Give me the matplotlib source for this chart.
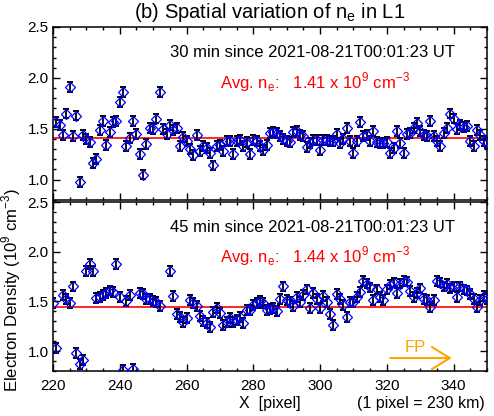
import matplotlib.pyplot as plt
import numpy as np
from matplotlib.ticker import MultipleLocator

plt.rcParams['font.family'] = 'Liberation Sans'
plt.rcParams['mathtext.fontset'] = 'custom'
plt.rcParams['mathtext.rm'] = 'Liberation Sans'

# ---- data ----
x_top = np.arange(221, 351)
ne_top = [1.57, 1.54, 1.44, 1.65, 1.91, 1.43, 1.63, 0.98, 1.44, 1.40,
          1.37, 1.16, 1.20, 1.49, 1.58, 1.34, 1.47, 1.57, 1.58, 1.76,
          1.86, 1.33, 1.41, 1.58, 1.45, 1.25, 1.05, 1.35, 1.51, 1.50,
          1.60, 1.86, 1.50, 1.45, 1.54, 1.49, 1.51, 1.33, 1.42, 1.38,
          1.30, 1.24, 1.44, 1.28, 1.33, 1.31, 1.26, 1.14, 1.33, 1.34,
          1.28, 1.38, 1.38, 1.25, 1.38, 1.39, 1.33, 1.37, 1.25, 1.39,
          1.38, 1.33, 1.29, 1.34, 1.46, 1.47, 1.46, 1.43, 1.40, 1.38,
          1.37, 1.47, 1.48, 1.44, 1.43, 1.32, 1.36, 1.39, 1.39, 1.29,
          1.39, 1.39, 1.38, 1.38, 1.45, 1.36, 1.40, 1.51, 1.38, 1.26,
          1.38, 1.57, 1.43, 1.44, 1.38, 1.48, 1.37, 1.36, 1.36, 1.37,
          1.26, 1.31, 1.48, 1.36, 1.26, 1.45, 1.46, 1.51, 1.56, 1.48,
          1.44, 1.43, 1.58, 1.43, 1.38, 1.33, 1.46, 1.51, 1.65, 1.60,
          1.50, 1.54, 1.52, 1.53, 1.38, 1.33, 1.49, 1.44, 1.38, 1.36]
err_top = 0.048
avg_top = 1.41

x_bot = [220, 221, 223, 224, 225, 226, 227, 228, 229, 230,
         231, 232, 233, 234, 235, 236, 237, 238, 239, 240,
         241, 242, 243, 244, 246, 247, 248, 249, 250, 251,
         252, 255, 256, 257, 258, 259, 260, 261, 262, 263,
         264, 265, 266, 267, 268, 269, 270, 271, 272, 273,
         274, 275, 276, 277, 278, 279, 280, 281, 282] + list(range(283, 351))
ne_bot = [1.48, 1.03, 1.56, 1.52, 1.48, 1.65, 0.98, 0.87, 0.91, 1.81,
          1.88, 1.81, 1.53, 1.54, 1.56, 1.58, 1.61, 1.59, 1.88, 1.54,
          0.81, 1.50, 1.56, 0.82, 1.58, 1.57, 1.52, 1.52, 1.50, 1.49,
          1.45, 1.81, 1.55, 1.37, 1.34, 1.29, 1.33, 1.51, 1.48, 1.45,
          1.35, 1.30, 1.28, 1.24, 1.39, 1.43, 1.38, 1.26, 1.29, 1.33,
          1.29, 1.31, 1.34, 1.28, 1.41, 1.41, 1.46, 1.48, 1.50,
          1.48, 1.41, 1.42, 1.43, 1.40, 1.52, 1.65, 1.51, 1.49, 1.45,
          1.54, 1.49, 1.56, 1.62, 1.43, 1.58, 1.52, 1.43, 1.55, 1.49,
          1.37, 1.26, 1.57, 1.52, 1.46, 1.34, 1.49, 1.49, 1.54, 1.59,
          1.71, 1.68, 1.64, 1.51, 1.62, 1.54, 1.51, 1.62, 1.67, 1.69,
          1.58, 1.68, 1.71, 1.70, 1.60, 1.54, 1.58, 1.63, 1.52, 1.51,
          1.44, 1.51, 1.71, 1.69, 1.65, 1.68, 1.63, 1.65, 1.54, 1.65,
          1.62, 1.61, 1.57, 1.52, 1.44, 1.51, 1.55, 1.52]
err_bot = 0.05
avg_bot = 1.44

fig = plt.figure(figsize=(4.94, 4.16), dpi=100)
ax1 = fig.add_axes([0.1073, 0.5192, 0.8785, 0.4159])
ax2 = fig.add_axes([0.1073, 0.1082, 0.8785, 0.4062])


def panel(ax, x, y, err, avg, minutes):
    ax.axhline(avg, color='red', lw=1.2, zorder=1)
    ax.errorbar(x, y, yerr=err, fmt='none', ecolor='black', elinewidth=1.3,
                capsize=2.4, capthick=1.4, zorder=2)
    ax.plot(x, y, 'D', ms=4.8, mfc='none', mec='blue', mew=0.9, zorder=3)
    ax.set_xlim(220, 350)
    ax.set_ylim(0.8, 2.5)
    ax.xaxis.set_major_locator(MultipleLocator(20))
    ax.xaxis.set_minor_locator(MultipleLocator(5))
    ax.yaxis.set_major_locator(MultipleLocator(0.5))
    ax.yaxis.set_minor_locator(MultipleLocator(0.1))
    ax.tick_params(which='both', direction='in', top=True, right=True,
                   labelsize=11, width=1.0)
    ax.tick_params(which='major', length=5)
    ax.tick_params(which='minor', length=2.5)
    ax.tick_params(axis='x', pad=6)
    ax.tick_params(axis='y', pad=3)
    for s in ax.spines.values():
        s.set_linewidth(1.1)
    ax.text(0.27, 0.85, '%d min since 2021-08-21T00:01:23 UT' % minutes,
            transform=ax.transAxes, fontsize=12, va='center')
    ax.text(0.385, 0.68,
            r'Avg. n$_\mathregular{e}$:   %.2f x 10$^\mathregular{9}$ cm$^\mathregular{-3}$' % avg,
            transform=ax.transAxes, fontsize=12, color='red', va='center')


panel(ax1, x_top, ne_top, err_top, avg_top, 30)
panel(ax2, x_bot, ne_bot, err_bot, avg_bot, 45)
ax1.tick_params(labelbottom=False)

fig.text(0.546, 0.971, r'(b) Spatial variation of n$_\mathregular{e}$ in L1',
         ha='center', va='center', fontsize=14.5)

ax2.text(0.5, -0.19, 'X  [pixel]', transform=ax2.transAxes, ha='center',
         va='center', fontsize=11.5)
ax2.text(0.995, -0.19, '(1 pixel = 230 km)', transform=ax2.transAxes,
         ha='right', va='center', fontsize=11.5)
fig.text(0.023, 0.303,
         r'Electron Density (10$^\mathregular{9}$ cm$^\mathregular{-3}$)',
         rotation=90, ha='center', va='center', fontsize=12)

# FP direction arrow
ax2.annotate('', xy=(340.3, 0.93), xytext=(320.2, 0.93),
             arrowprops=dict(arrowstyle='->,head_length=1.3,head_width=0.8',
                             color='orange', lw=1.5))
ax2.text(328.6, 1.035, 'FP', color='orange', fontsize=12, ha='center',
         va='center')

fig.savefig('out.png', dpi=100)
